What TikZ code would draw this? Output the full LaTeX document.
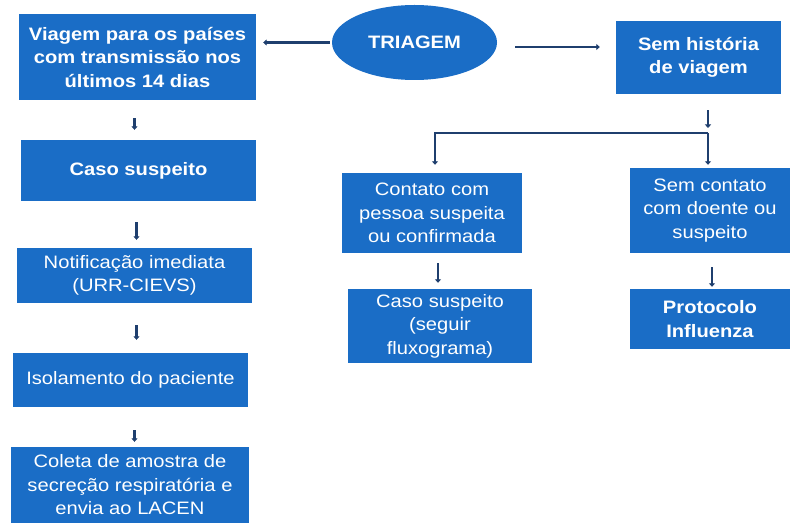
\documentclass[tikz,border=0pt]{standalone}
\usepackage{fontspec}
\setmainfont{Liberation Sans}[FakeStretch=1.12]
\usetikzlibrary{arrows.meta,shapes.geometric}
\definecolor{boxblue}{HTML}{1A6DC6}
\definecolor{arrnavy}{HTML}{1F3F6E}
\tikzset{
  box/.style={fill=boxblue, draw=none, text=white, align=center, inner sep=0pt,
    font=\fontsize{18}{23.5}\selectfont},
  bbox/.style={box, font=\fontsize{18}{23.5}\selectfont\bfseries},
  arr/.style={draw=arrnavy, line width=2.5pt, -{Triangle[length=3.5pt,width=6pt]}},
  lin/.style={draw=arrnavy, line width=2.5pt}
}
\begin{document}
\begin{tikzpicture}[x=1pt,y=-1pt]
\useasboundingbox[fill=white] (0,0) rectangle (790,529);
% left column
\node[bbox, minimum width=237pt, minimum height=86pt] (v) at (137.5,57) {Viagem para os países\\com transmissão nos\\últimos 14 dias};
\node[bbox, minimum width=235pt, minimum height=61pt] (cs) at (138.5,170.5) {Caso suspeito};
\node[box, minimum width=235pt, minimum height=55pt] (no) at (134.5,275.5) {Notificação imediata\\(URR-CIEVS)};
\node[box, minimum width=235pt, minimum height=54pt] (is) at (130.5,380) {Isolamento do paciente};
\node[box, minimum width=238pt, minimum height=76pt] (co) at (130,485) {Coleta de amostra de\\secreção respiratória e\\envia ao LACEN};
% triage
\node[ellipse, fill=boxblue, text=white, inner sep=0pt, minimum width=165pt, minimum height=75pt,
  font=\fontsize{18}{23.5}\selectfont\bfseries] (tri) at (414.5,42.5) {TRIAGEM};
% right side
\node[bbox, minimum width=165pt, minimum height=73pt] (sh) at (698.5,57.5) {Sem história\\de viagem};
\node[box, minimum width=180pt, minimum height=80pt] (ct) at (432,213) {Contato com\\pessoa suspeita\\ou confirmada};
\node[box, minimum width=160pt, minimum height=85pt] (sc) at (710,210.5) {Sem contato\\com doente ou\\suspeito};
\node[box, minimum width=184pt, minimum height=74pt] (cs2) at (440,326) {Caso suspeito\\(seguir\\fluxograma)};
\node[bbox, minimum width=160pt, minimum height=60pt] (pr) at (710,319) {Protocolo\\Influenza};
% connectors
\draw[arr, shorten <=2pt, shorten >=7pt] (tri.west) -- (tri.west -| v.east);
\draw[arr, shorten <=18pt, shorten >=16pt] ([yshift=-4.5pt]tri.east) -- ([yshift=-4.5pt]tri.east -| sh.west);
\draw[arr, shorten <=18pt, shorten >=10pt] ([xshift=-3pt]v.south) -- ([xshift=-3pt]v.south |- cs.north);
\draw[arr, shorten <=21pt, shorten >=8pt] ([xshift=-2pt]cs.south) -- ([xshift=-2pt]cs.south |- no.north);
\draw[arr, shorten <=22pt, shorten >=13pt] ([xshift=2pt]no.south) -- ([xshift=2pt]no.south |- is.north);
\draw[arr, shorten <=23pt, shorten >=5pt] ([xshift=4pt]is.south) -- ([xshift=4pt]is.south |- co.north);
\coordinate (j) at (708,133);
\coordinate (jl) at (435,133);
\draw[arr, shorten <=16pt, shorten >=5pt] (sh.south -| j) -- (j);
\draw[arr, shorten >=3pt] (j) -- (j |- sc.north);
\draw[arr, shorten >=8pt] (j) -- (jl) -- (jl |- ct.north);
\draw[arr, shorten <=10pt, shorten >=6pt] ([xshift=6pt]ct.south) -- ([xshift=6pt]ct.south |- cs2.north);
\draw[arr, shorten <=14pt, shorten >=2pt] ([xshift=2pt]sc.south) -- ([xshift=2pt]sc.south |- pr.north);
\end{tikzpicture}
\end{document}
